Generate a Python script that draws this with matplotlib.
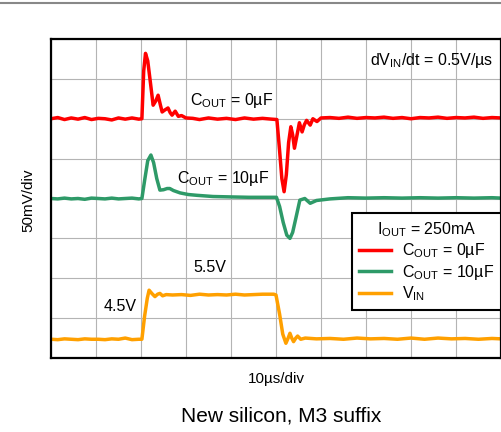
import numpy as np
import matplotlib
matplotlib.use("Agg")
import matplotlib.pyplot as plt
from matplotlib.lines import Line2D

plt.rcParams['font.family'] = ['Liberation Sans', 'DejaVu Sans']
plt.rcParams['mathtext.fontset'] = 'custom'
plt.rcParams['mathtext.rm'] = 'Liberation Sans'

# scope traces, x in time divisions (10us/div), y in vertical divisions (50mV/div)
red_t = [0.0, 0.15, 0.3, 0.45, 0.6, 0.75, 0.9, 1.05, 1.2, 1.35, 1.5, 1.65, 1.8, 1.95,
         2.02, 2.06, 2.10, 2.15, 2.21, 2.27, 2.33, 2.38, 2.43, 2.47, 2.53, 2.60, 2.65,
         2.69, 2.76, 2.83, 2.9, 3.0, 3.15, 3.3, 3.5, 3.7, 3.9, 4.1, 4.3, 4.5, 4.7, 4.9,
         5.02, 5.08, 5.13, 5.18, 5.23, 5.28, 5.33, 5.37, 5.41, 5.46, 5.52, 5.58, 5.63,
         5.68, 5.76, 5.82, 5.91, 6.0, 6.2, 6.4, 6.6, 6.8, 7.0, 7.2, 7.4, 7.6, 7.8, 8.0,
         8.2, 8.4, 8.6, 8.8, 9.0, 9.2, 9.4, 9.6, 9.8, 10.0]
red_v = [6.00, 6.03, 5.98, 6.02, 5.99, 6.03, 5.98, 6.01, 6.00, 5.97, 6.02, 5.99, 6.02, 5.99,
         6.00, 7.20, 7.64, 7.45, 6.90, 6.34, 6.45, 6.59, 6.35, 6.17, 6.22, 6.27, 6.15,
         6.09, 6.19, 6.06, 6.08, 6.02, 6.01, 5.98, 6.02, 5.99, 6.01, 5.98, 6.02, 5.99, 6.01, 5.99,
         5.98, 5.20, 4.50, 4.17, 4.60, 5.40, 5.80, 5.60, 5.26, 5.55, 5.90, 5.67, 5.85,
         5.96, 5.84, 6.00, 5.93, 6.02, 6.03, 6.01, 6.04, 6.01, 6.03, 6.02, 6.04, 6.01, 6.03, 6.00,
         6.03, 6.02, 6.04, 6.01, 6.03, 6.02, 6.04, 6.01, 6.03, 6.02]

green_t = [0.0, 0.15, 0.3, 0.45, 0.6, 0.75, 0.9, 1.05, 1.2, 1.35, 1.5, 1.65, 1.8, 1.95,
           2.02, 2.08, 2.15, 2.22, 2.28, 2.35, 2.42, 2.5, 2.58, 2.64, 2.72, 2.87, 3.05,
           3.24, 3.6, 3.98, 4.4, 4.8, 5.01, 5.08, 5.16, 5.24, 5.31, 5.37, 5.44, 5.53,
           5.64, 5.76, 5.9, 6.2, 6.6, 7.0, 7.4, 7.8, 8.2, 8.6, 9.0, 9.4, 9.8, 10.0]
green_v = [4.00, 3.99, 4.01, 3.99, 4.00, 3.98, 4.01, 4.00, 3.99, 4.01, 3.99, 4.00, 4.01, 3.99,
           4.00, 4.45, 4.95, 5.09, 4.90, 4.50, 4.21, 4.22, 4.25, 4.25, 4.20, 4.14, 4.10,
           4.08, 4.05, 4.04, 4.03, 4.03, 4.03, 3.80, 3.40, 3.08, 3.00, 3.15, 3.50, 3.96,
           4.00, 3.88, 3.95, 3.99, 4.02, 4.01, 4.02, 4.01, 4.02, 4.01, 4.02, 4.01, 4.02, 4.01]

vin_t = [0.0, 0.15, 0.3, 0.45, 0.6, 0.75, 0.9, 1.05, 1.2, 1.35, 1.5, 1.65, 1.8, 1.95,
         2.02, 2.08, 2.14, 2.18, 2.24, 2.31, 2.37, 2.42, 2.48, 2.56, 2.7, 2.9, 3.1, 3.3,
         3.5, 3.7, 3.9, 4.1, 4.3, 4.5, 4.7, 4.95, 5.0, 5.08, 5.15, 5.22, 5.27, 5.31,
         5.35, 5.39, 5.44, 5.48, 5.55, 5.65, 5.9, 6.2, 6.5, 6.8, 7.1, 7.4, 7.7, 8.0,
         8.3, 8.6, 8.9, 9.2, 9.5, 9.8, 10.0]
vin_v = [0.47, 0.46, 0.48, 0.47, 0.46, 0.48, 0.47, 0.47, 0.46, 0.48, 0.47, 0.50, 0.46, 0.47,
         0.47, 1.05, 1.50, 1.70, 1.62, 1.54, 1.60, 1.62, 1.56, 1.59, 1.58, 1.59, 1.57, 1.60,
         1.58, 1.59, 1.58, 1.60, 1.58, 1.59, 1.60, 1.60, 1.58, 1.10, 0.60, 0.37, 0.50, 0.62,
         0.50, 0.41, 0.50, 0.55, 0.47, 0.50, 0.48, 0.49, 0.47, 0.50, 0.48, 0.49, 0.47, 0.50,
         0.47, 0.50, 0.48, 0.49, 0.47, 0.49, 0.48]

red = '#ff0000'
green = '#2e9a68'
orange = '#ffa000'

fig = plt.figure(figsize=(5.02, 4.32), dpi=100)
ax = fig.add_axes([51/502, 74/432, 450/502, 319/432])

ax.plot(red_t, red_v, color=red, lw=2.5)
ax.plot(green_t, green_v, color=green, lw=2.5)
ax.plot(vin_t, vin_v, color=orange, lw=2.5)

ax.set_xlim(0, 10)
ax.set_ylim(0, 8)
ax.set_xticks(np.arange(0, 11, 1))
ax.set_yticks(np.arange(0, 9, 1))
ax.tick_params(length=0, labelbottom=False, labelleft=False)
ax.grid(True, color='#b4b4b4', lw=0.8)
ax.set_axisbelow(True)
for s in ax.spines.values():
    s.set_linewidth(1.6)
    s.set_color('black')

fs = 11.5
ax.text(9.82, 7.47, r'dV$_{\mathregular{IN}}$/dt = 0.5V/µs', ha='right', va='center', fontsize=fs)
ax.text(3.09, 6.47, r'C$_{\mathregular{OUT}}$ = 0µF', ha='left', va='center', fontsize=fs)
ax.text(2.80, 4.49, r'C$_{\mathregular{OUT}}$ = 10µF', ha='left', va='center', fontsize=fs)
ax.text(3.16, 2.28, '5.5V', ha='left', va='center', fontsize=fs)
ax.text(1.16, 1.28, '4.5V', ha='left', va='center', fontsize=fs)

handles = [Line2D([], [], color=red, lw=2.5),
           Line2D([], [], color=green, lw=2.5),
           Line2D([], [], color=orange, lw=2.5)]
labels = [r'C$_{\mathregular{OUT}}$ = 0µF', r'C$_{\mathregular{OUT}}$ = 10µF', r'V$_{\mathregular{IN}}$']
leg = ax.legend(handles, labels, title=r'I$_{\mathregular{OUT}}$ = 250mA', loc='lower right',
                bbox_to_anchor=(1.0, 0.15), borderaxespad=0, fontsize=fs, title_fontsize=fs,
                frameon=True, fancybox=False, framealpha=1, edgecolor='black',
                handlelength=2.0, handletextpad=0.65, labelspacing=0.15, borderpad=0.45)
leg.get_frame().set_linewidth(1.5)

fig.text(28/502, 1 - 200/432, '50mV/div', rotation=90, ha='center', va='center', fontsize=11)
fig.text(276/502, 1 - 383/432, '10µs/div', ha='center', va='baseline', fontsize=11)
fig.text(281/502, 1 - 421/432, 'New silicon, M3 suffix', ha='center', va='baseline', fontsize=15)

# grey rule across the top
fig.add_artist(Line2D([0, 1], [1 - 3/432, 1 - 3/432], color='#888888', lw=1.5,
                      transform=fig.transFigure))

fig.savefig('out.png', dpi=100)
